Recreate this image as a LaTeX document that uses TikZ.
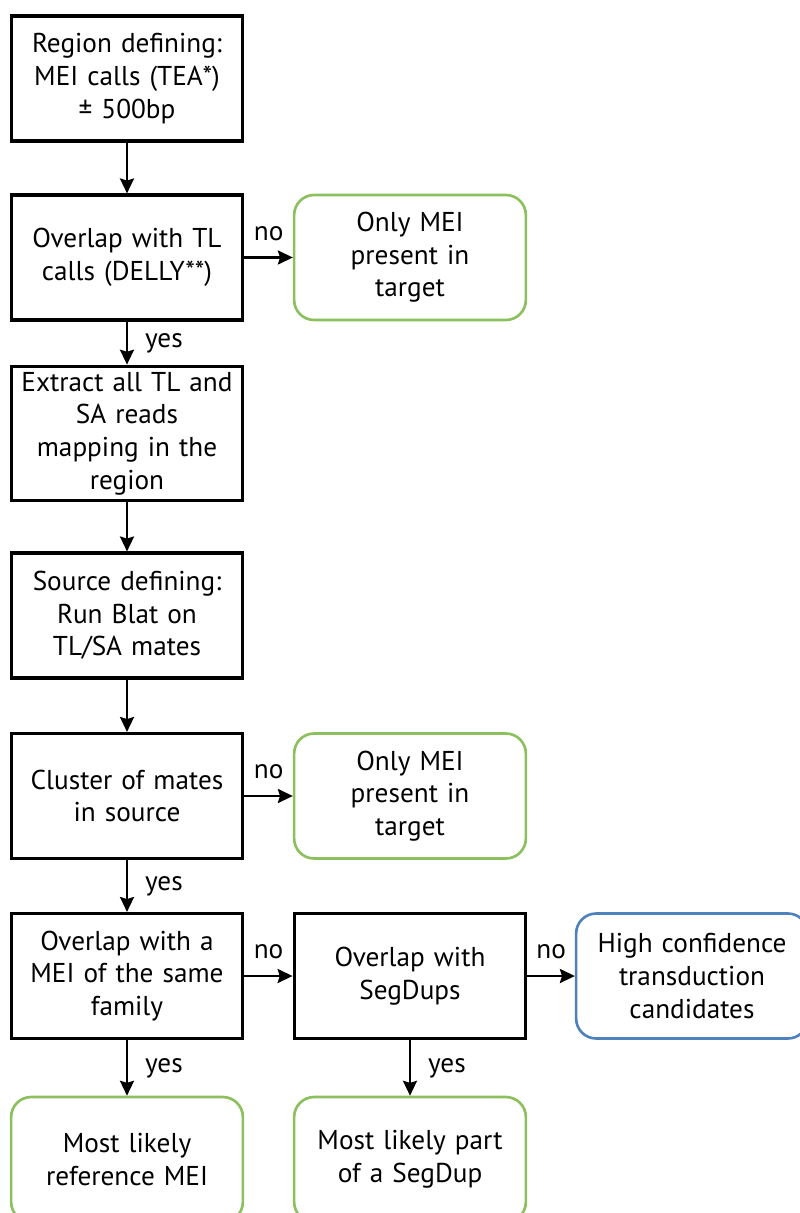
\documentclass[tikz,border=0pt]{standalone}
\usepackage{fontspec}
\setmainfont{PT Sans}
\usetikzlibrary{arrows.meta}
\definecolor{flowGreen}{RGB}{140,192,94}
\definecolor{flowBlue}{RGB}{79,129,189}

\begin{document}
\begin{tikzpicture}[flowBoxStyle/.style={draw, line width=1.8pt, minimum width=4.6cm, minimum height=2.5cm, text width=4.4cm, align=center, font=\fontsize{15.5}{18.6}\selectfont},
    flowEndStyle/.style={flowBoxStyle, draw=flowGreen, line width=1.5pt, rounded corners=0.4cm},
    flowGoalStyle/.style={flowBoxStyle, draw=flowBlue, line width=1.5pt, rounded corners=0.4cm},
    flowLabelStyle/.style={font=\fontsize{15.5}{18.6}\selectfont},
    flowArrowStyle/.style={-{Stealth[length=8.5pt, width=8pt, inset=1.2pt]}, line width=1.3pt}]
    \useasboundingbox (0, 0) rectangle (15.98, -24.26);

    % Main column of steps
    \node[flowBoxStyle] (region) at (2.54, -1.57) {Region defining:\\ MEI calls (TEA*)\\ ± 500bp};
    \node[flowBoxStyle] (overlapTL) at (2.54, -5.15) {Overlap with TL\\ calls (DELLY**)};
    \node[flowEndStyle] (onlyMEIa) at (8.2, -5.15) {Only MEI\\ present in\\ target};
    \node[flowBoxStyle] (extract) at (2.54, -8.67) {Extract all TL and\\ SA reads\\ mapping in the\\ region};
    \node[flowBoxStyle] (source) at (2.54, -12.31) {Source defining:\\ Run Blat on\\ TL/SA mates};
    \node[flowBoxStyle] (cluster) at (2.54, -15.92) {Cluster of mates\\ in source};
    \node[flowEndStyle] (onlyMEIb) at (8.2, -15.92) {Only MEI\\ present in\\ target};
    \node[flowBoxStyle] (overlapMEI) at (2.54, -19.52) {Overlap with a\\ MEI of the same\\ family};
    \node[flowBoxStyle] (overlapSD) at (8.2, -19.52) {Overlap with\\ SegDups};
    \node[flowGoalStyle] (highConf) at (13.84, -19.52) {High confidence\\ transduction\\ candidates};
    \node[flowEndStyle] (refMEI) at (2.54, -23.19) {Most likely\\ reference MEI};
    \node[flowEndStyle] (partSD) at (8.2, -23.19) {Most likely part\\ of a SegDup};

    \draw[flowArrowStyle] (region) -- (overlapTL);
    \draw[flowArrowStyle] (overlapTL) -- node[flowLabelStyle, above=0.2cm] {no} (onlyMEIa);
    \draw[flowArrowStyle] (overlapTL) -- node[flowLabelStyle, right=0.22cm] {yes} (extract);
    \draw[flowArrowStyle] (extract) -- (source);
    \draw[flowArrowStyle] (source) -- (cluster);
    \draw[flowArrowStyle] (cluster) -- node[flowLabelStyle, above=0.2cm] {no} (onlyMEIb);
    \draw[flowArrowStyle] (cluster) -- node[flowLabelStyle, right=0.22cm] {yes} (overlapMEI);
    \draw[flowArrowStyle] (overlapMEI) -- node[flowLabelStyle, above=0.2cm] {no} (overlapSD);
    \draw[flowArrowStyle] (overlapSD) -- node[flowLabelStyle, above=0.2cm] {no} (highConf);
    \draw[flowArrowStyle] (overlapMEI) -- node[flowLabelStyle, right=0.22cm] {yes} (refMEI);
    \draw[flowArrowStyle] (overlapSD) -- node[flowLabelStyle, right=0.22cm] {yes} (partSD);
\end{tikzpicture}
\end{document}
